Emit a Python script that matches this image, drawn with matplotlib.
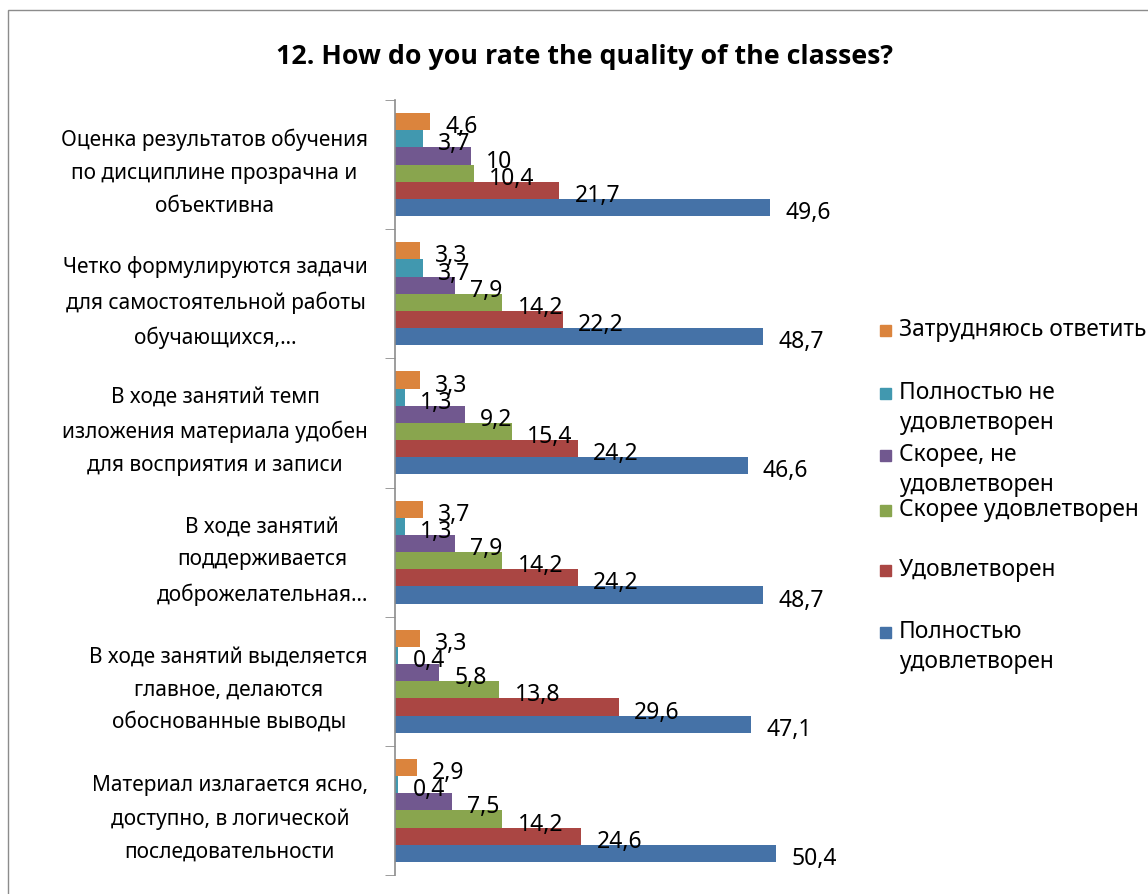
import matplotlib
matplotlib.use("Agg")
from matplotlib import pyplot as plt
from matplotlib.patches import Rectangle
import numpy as np

plt.rcParams['font.family'] = ['Noto Sans', 'DejaVu Sans']

# categories, top to bottom
categories = [
    "Оценка результатов обучения\nпо дисциплине прозрачна и\nобъективна",
    "Четко формулируются задачи\nдля самостоятельной работы\nобучающихся,…",
    "В ходе занятий темп\nизложения материала удобен\nдля восприятия и записи",
    "В ходе занятий\nподдерживается\nдоброжелательная…",
    "В ходе занятий выделяется\nглавное, делаются\nобоснованные выводы",
    "Материал излагается ясно,\nдоступно, в логической\nпоследовательности",
]

# series, in legend order (top bar in each group first)
series_names = [
    "Затрудняюсь ответить",
    "Полностью не\nудовлетворен",
    "Скорее, не\nудовлетворен",
    "Скорее удовлетворен",
    "Удовлетворен",
    "Полностью\nудовлетворен",
]
hard_to_say = [4.6, 3.3, 3.3, 3.7, 3.3, 2.9]
fully_unsat = [3.7, 3.7, 1.3, 1.3, 0.4, 0.4]
rather_unsat = [10, 7.9, 9.2, 7.9, 5.8, 7.5]
rather_sat = [10.4, 14.2, 15.4, 14.2, 13.8, 14.2]
satisfied = [21.7, 22.2, 24.2, 24.2, 29.6, 24.6]
fully_sat = [49.6, 48.7, 46.6, 48.7, 47.1, 50.4]

series = [hard_to_say, fully_unsat, rather_unsat, rather_sat, satisfied, fully_sat]
colors = ['#DB843D', '#4198AF', '#71588F', '#89A54E', '#AA4643', '#4572A7']


def fmt(v):
    if float(v).is_integer():
        return str(int(v))
    return str(v).replace('.', ',')


fig = plt.figure(figsize=(11.48, 8.94), dpi=100)

# outer chart border
fig.patches.append(Rectangle((8 / 1148, -0.05), 1.2, 1 - 10 / 894 + 0.05,
                             transform=fig.transFigure, fill=False,
                             edgecolor='#8c8c8c', linewidth=1.0))

ax = fig.add_axes([395 / 1148, 1 - 875 / 894, 460 / 1148, 775 / 894])

n = len(series)
bar_h = 0.133
y = np.arange(len(categories))
for i, vals in enumerate(series):
    pos = y - (n / 2 - 0.5) * bar_h + i * bar_h
    ax.barh(pos, vals, height=bar_h, color=colors[i], label=series_names[i])
    for p, v in zip(pos, vals):
        # data labels sit right of the bar end, as in the spreadsheet
        ax.annotate(fmt(v), (v, p), xytext=(11, -4), textcoords='offset points',
                    ha='left', va='center', fontsize=16.5, color='black')

ax.set_xlim(0, 60.8)
ax.set_ylim(len(categories) - 0.5, -0.5)

ax.set_yticks(y)
ax.set_yticklabels(categories, fontsize=15, multialignment='center', linespacing=1.74)
ax.set_yticks(np.arange(len(categories) + 1) - 0.5, minor=True)
ax.tick_params(axis='y', which='major', length=0, pad=19.5)
ax.tick_params(axis='y', which='minor', length=7, color='#8c8c8c', direction='out')
ax.set_xticks([])

for s in ['top', 'right', 'bottom']:
    ax.spines[s].set_visible(False)
ax.spines['left'].set_color('#8c8c8c')
ax.spines['left'].set_linewidth(1.2)

fig.text(584 / 1148, 1 - 57 / 894, "12. How do you rate the quality of the classes?",
         ha='center', va='center', fontsize=19.3, fontweight='bold',
         family=['Open Sans', 'DejaVu Sans'])

# legend drawn to match the spreadsheet layout
legend_y = [330, 393, 455, 510, 570, 632]
for name, c, ly in zip(series_names, colors, legend_y):
    fig.patches.append(Rectangle((880 / 1148, 1 - (ly + 5.5) / 894), 11 / 1148, 11 / 894,
                                 transform=fig.transFigure, color=c))
    for k, line in enumerate(name.split('\n')):
        fig.text(899 / 1148, 1 - (ly + 30 * k) / 894, line, ha='left', va='center',
                 fontsize=16.4)

fig.savefig("out.png", dpi=100)
